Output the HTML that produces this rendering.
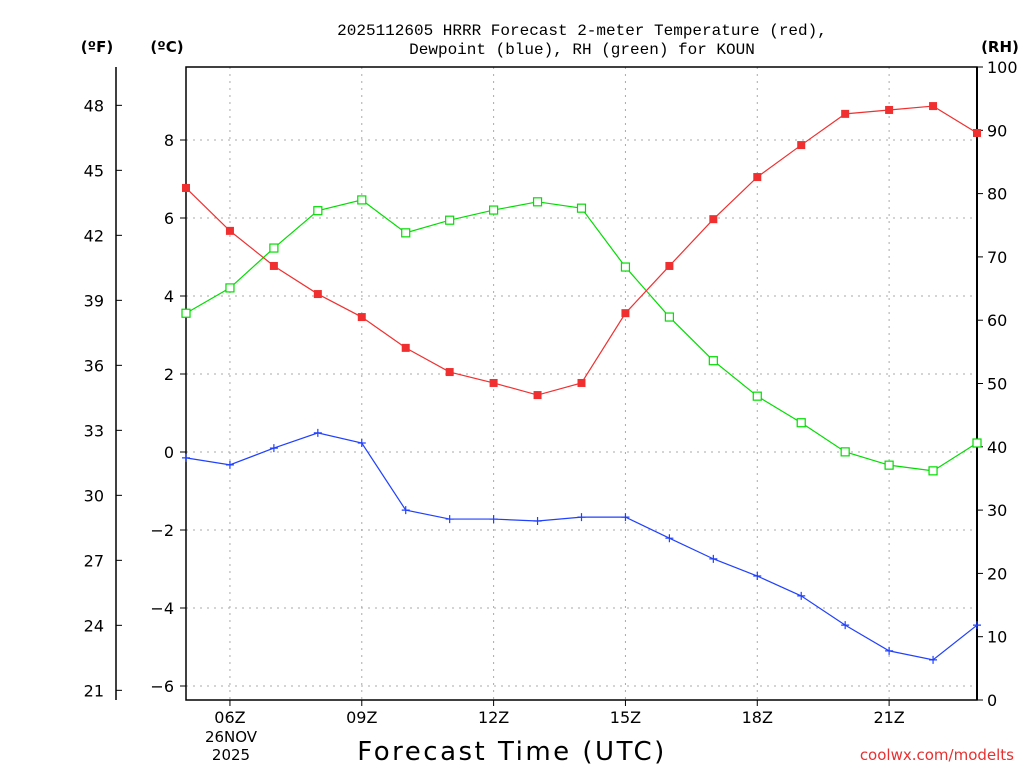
<!DOCTYPE html>
<html><head><meta charset="utf-8"><style>
body{margin:0;background:#fff;}
svg{display:block;font-family:"DejaVu Sans","Liberation Sans",sans-serif;}
</style></head><body>
<svg id="chart" width="1024" height="768">
<g id="grid"></g>
<g id="axes"></g>
<g id="series"></g>
<text x="582" y="35" text-anchor="middle" font-size="16" font-family="Liberation Mono, monospace">2025112605 HRRR Forecast 2-meter Temperature (red),</text>
<text x="582" y="54" text-anchor="middle" font-size="16" font-family="Liberation Mono, monospace">Dewpoint (blue), RH (green) for KOUN</text>
<text x="97" y="52" text-anchor="middle" font-size="15" font-weight="bold">(ºF)</text>
<text x="167" y="52" text-anchor="middle" font-size="15" font-weight="bold">(ºC)</text>
<text x="1000" y="52" text-anchor="middle" font-size="15" font-weight="bold">(RH)</text>
<text x="512" y="760" text-anchor="middle" font-size="26" letter-spacing="2.5">Forecast Time (UTC)</text>
<text x="1014" y="760" text-anchor="end" font-size="15" fill="#e83030">coolwx.com/modelts</text>
<text x="231" y="742" text-anchor="middle" font-size="15">26NOV</text>
<text x="231" y="760" text-anchor="middle" font-size="15">2025</text>
</svg>
<script>
const hours=[5,6,7,8,9,10,11,12,13,14,15,16,17,18,19,20,21,22,23];
const tempC=[6.77,5.67,4.77,4.05,3.46,2.67,2.05,1.77,1.46,1.77,3.56,4.77,5.97,7.05,7.87,8.67,8.77,8.87,8.18];
const dewC=[-0.15,-0.33,0.10,0.49,0.23,-1.49,-1.72,-1.72,-1.77,-1.67,-1.67,-2.21,-2.74,-3.18,-3.69,-4.44,-5.10,-5.33,-4.44];
const rh=[61.1,65.1,71.4,77.3,79.0,73.8,75.8,77.4,78.7,77.7,68.4,60.5,53.6,48.0,43.8,39.2,37.1,36.2,40.6];
const cTicks=[-6,-4,-2,0,2,4,6,8];
const fTicks=[21,24,27,30,33,36,39,42,45,48];
const rhTicks=[0,10,20,30,40,50,60,70,80,90,100];
const xTicks=[6,9,12,15,18,21];
const xTickLabels=["06Z","09Z","12Z","15Z","18Z","21Z"];

const L=186,R=977,T=67,B=700;
const xS=h=>L+(h-5)*(R-L)/18;
const cS=c=>452-c*39;
const fS=f=>cS((f-32)/1.8);
const rS=v=>B-v*(B-T)/100;
const NS="http://www.w3.org/2000/svg";
function mk(p,tag,at){const e=document.createElementNS(NS,tag);for(const k in at)e.setAttribute(k,at[k]);p.appendChild(e);return e;}
const grid=document.getElementById('grid'),axes=document.getElementById('axes'),ser=document.getElementById('series');

cTicks.forEach(c=>{const y=cS(c);
 const g=mk(grid,'line',{x1:L,x2:R,y1:y,y2:y,stroke:'#aaa','stroke-dasharray':'2,5'});
 
 mk(axes,'line',{x1:L-6,x2:L,y1:y,y2:y,stroke:'#000'});
 const t=mk(axes,'text',{x:L-12,y:y+6,'text-anchor':'end','font-size':16});t.textContent=c<0?'−'+(-c):c;
 });
xTicks.forEach((h,i)=>{const x=xS(h);
 const g=mk(grid,'line',{x1:x,x2:x,y1:T,y2:B,stroke:'#aaa','stroke-dasharray':'2,5'});
 
 mk(axes,'line',{x1:x,x2:x,y1:B,y2:B+6,stroke:'#000'});
 const t=mk(axes,'text',{x:x,y:B+23,'text-anchor':'middle','font-size':16});t.textContent=xTickLabels[i];
 });
fTicks.forEach(f=>{const y=fS(f);
 mk(axes,'line',{x1:116,x2:122,y1:y,y2:y,stroke:'#000'});
 const t=mk(axes,'text',{x:104,y:y+6,'text-anchor':'end','font-size':16});t.textContent=f;
 });
rhTicks.forEach(v=>{const y=rS(v);
 mk(axes,'line',{x1:R,x2:R+6,y1:y,y2:y,stroke:'#000'});
 const t=mk(axes,'text',{x:R+10,y:y+6,'text-anchor':'start','font-size':16});t.textContent=v;
 });
mk(axes,'rect',{x:L,y:T,width:R-L,height:B-T,fill:'none',stroke:'#000','stroke-width':1.5});
mk(axes,'line',{x1:116,x2:116,y1:T,y2:B,stroke:'#000','stroke-width':1.5});
mk(axes,'line',{x1:R,x2:R,y1:T,y2:B,stroke:'#000','stroke-width':2});

function series(vals,sc,color,name,marker){
 const pts=vals.map((v,i)=>[xS(hours[i]),sc(v)]);
 const pl=mk(ser,'polyline',{points:pts.map(p=>p.join(',')).join(' '),fill:'none',stroke:color,'stroke-width':1.2});
 
 pts.forEach(p=>{let m;
  if(marker==='fill')m=mk(ser,'rect',{x:p[0]-4,y:p[1]-4,width:8,height:8,fill:color});
  else if(marker==='open')m=mk(ser,'rect',{x:p[0]-4,y:p[1]-4,width:8,height:8,fill:'#fff',stroke:color,'stroke-width':1.2});
  else{m=mk(ser,'path',{d:`M${p[0]-4},${p[1]}h8M${p[0]},${p[1]-4}v8`,stroke:color,'stroke-width':1.2});}
  });
}
series(rh,rS,'#00dd00','rh','open');
series(tempC,cS,'#f03030','temperature','fill');
series(dewC,cS,'#2040ff','dewpoint','plus');
</script>
</body></html>
